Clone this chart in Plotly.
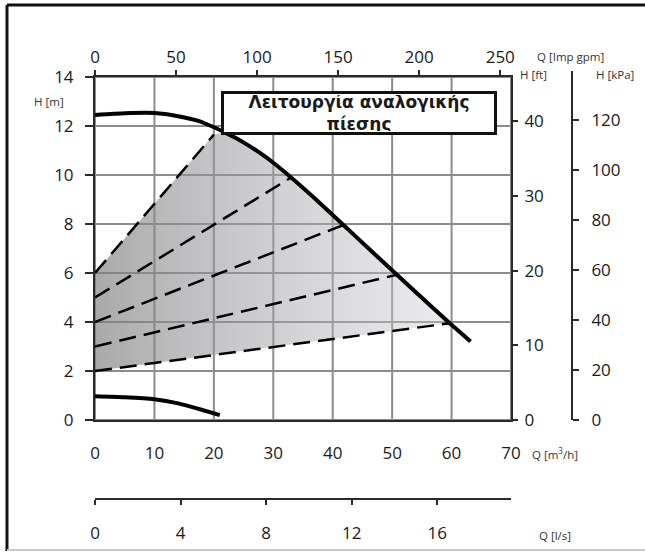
import plotly.graph_objects as go

# ---------------- data ----------------
# Maximum pump curve  (Q in m3/h, H in m)
max_q = [0, 5, 10, 14, 17.5, 20, 22, 24, 26, 28, 30, 33, 37, 41.8, 46, 50.8, 55, 59.7, 63.2]
max_h = [12.45, 12.52, 12.53, 12.4, 12.2, 11.95, 11.72, 11.47, 11.18, 10.86, 10.5, 9.9, 9.04,
         7.96, 7.01, 5.93, 4.99, 3.95, 3.2]

# Minimum pump curve
min_q = [0, 5, 10, 14, 17.5, 21]
min_h = [0.97, 0.93, 0.85, 0.68, 0.45, 0.2]

# Proportional-pressure control lines (start at Q=0)
prop_start_h = [6, 5, 4, 3, 2]
prop_end_q = [20, 33, 41.8, 50.8, 59.7]
prop_end_h = [11.65, 9.9, 7.96, 5.93, 3.95]

# Tick values of the axes
q_m3h_ticks = [0, 10, 20, 30, 40, 50, 60, 70]
q_gpm_ticks = [0, 50, 100, 150, 200, 250]
q_ls_ticks = [0, 4, 8, 12, 16]
h_m_ticks = [0, 2, 4, 6, 8, 10, 12, 14]
h_ft_ticks = [0, 10, 20, 30, 40]
h_kpa_ticks = [0, 20, 40, 60, 80, 100, 120]

box_text = "Λειτουργία αναλογικής<br>πίεσης"

# unit conversions
GPM_PER_M3H = 1 / 0.272765
LS_PER_M3H = 1 / 3.6
FT_PER_M = 1 / 0.3048
KPA_PER_M = 9.80665

Q_MAX = 70
H_MAX = 14

# ---------------- layout geometry (pixels) ----------------
W, H = 645, 555
ML, MR, MT, MB = 95, 20, 77, 30
PW = W - ML - MR
PH = H - MT - MB


def px(xp):
    return (xp - ML) / PW


def py(yp):
    return (H - MB - yp) / PH


x_dom = [0, px(511)]
y_dom = [py(420), 1]

fig = go.Figure()

GRID = "#8c8c8c"
AXC = "#2a2a2a"

# grid lines (drawn below the traces)
for q in q_m3h_ticks:
    fig.add_shape(type="line", xref="x", yref="y", x0=q, x1=q, y0=0, y1=H_MAX,
                  line=dict(color=GRID, width=2), layer="below")
for h in h_m_ticks:
    fig.add_shape(type="line", xref="x", yref="y", x0=0, x1=Q_MAX, y0=h, y1=h,
                  line=dict(color=GRID, width=2), layer="below")

# shaded operating area
poly_q = [0, 0, prop_end_q[0]]
poly_h = [prop_start_h[-1], prop_start_h[0], prop_end_h[0]]
for q, h in zip(max_q, max_h):
    if prop_end_q[0] < q < prop_end_q[-1]:
        poly_q.append(q)
        poly_h.append(h)
poly_q += [prop_end_q[-1], 0]
poly_h += [prop_end_h[-1], prop_start_h[-1]]

fig.add_trace(go.Scatter(
    x=poly_q, y=poly_h, mode="lines", line=dict(width=0),
    fill="toself",
    fillgradient=dict(type="horizontal",
                      colorscale=[[0, "rgba(125,125,125,0.66)"],
                                  [0.5, "rgba(160,160,165,0.5)"],
                                  [1, "rgba(205,205,208,0.4)"]]),
    hoverinfo="skip", showlegend=False))

# dashed proportional lines
for h0, q1, h1 in zip(prop_start_h, prop_end_q, prop_end_h):
    fig.add_trace(go.Scatter(
        x=[0, q1], y=[h0, h1], mode="lines",
        line=dict(color="black", width=2.5, dash="17px,8px"),
        hoverinfo="skip", showlegend=False))

# max & min curves
fig.add_trace(go.Scatter(x=max_q, y=max_h, mode="lines",
                         line=dict(color="black", width=4, shape="spline", smoothing=0.5),
                         showlegend=False))
fig.add_trace(go.Scatter(x=min_q, y=min_h, mode="lines",
                         line=dict(color="black", width=4, shape="spline", smoothing=0.6),
                         showlegend=False))

# dummy traces so that the secondary axes are drawn
fig.add_trace(go.Scatter(x=[None], y=[None], xaxis="x2", yaxis="y", showlegend=False, hoverinfo="skip"))
fig.add_trace(go.Scatter(x=[None], y=[None], xaxis="x", yaxis="y2", showlegend=False, hoverinfo="skip"))
fig.add_trace(go.Scatter(x=[None], y=[None], xaxis="x", yaxis="y3", showlegend=False, hoverinfo="skip"))
fig.add_trace(go.Scatter(x=[None], y=[None], xaxis="x3", yaxis="y", showlegend=False, hoverinfo="skip"))

FONT = "Open Sans"
tickfont = dict(family=FONT, size=17, color="#1a1a1a")

fig.update_layout(
    width=W, height=H,
    margin=dict(l=ML, r=MR, t=MT, b=MB, autoexpand=False),
    paper_bgcolor="white", plot_bgcolor="white",
    showlegend=False,
    xaxis=dict(domain=x_dom, range=[0, Q_MAX], tickvals=q_m3h_ticks,
               showgrid=False, zeroline=False,
               showline=True, linecolor=AXC, linewidth=2, mirror=True,
               ticks="", ticklabelstandoff=17, tickfont=tickfont, anchor="y"),
    yaxis=dict(domain=y_dom, range=[0, H_MAX], tickvals=h_m_ticks,
               showgrid=False, zeroline=False,
               showline=True, linecolor=AXC, linewidth=2, mirror=True,
               ticks="outside", ticklen=8, tickwidth=1.5, tickcolor=AXC,
               ticklabelstandoff=8, tickfont=tickfont, anchor="x"),
    xaxis2=dict(overlaying="x", side="top", anchor="y",
                range=[0, Q_MAX * GPM_PER_M3H], tickvals=q_gpm_ticks,
                showgrid=False, zeroline=False, showline=False,
                ticks="outside", ticklen=6, tickwidth=1.5, tickcolor=AXC,
                ticklabelstandoff=0, tickfont=tickfont),
    yaxis2=dict(overlaying="y", side="right", anchor="x",
                range=[0, H_MAX * FT_PER_M], tickvals=h_ft_ticks,
                showgrid=False, zeroline=False, showline=False,
                ticks="outside", ticklen=6, tickwidth=1.5, tickcolor=AXC,
                ticklabelstandoff=3, tickfont=tickfont),
    yaxis3=dict(overlaying="y", side="right", anchor="free", position=px(572),
                range=[0, H_MAX * KPA_PER_M], tickvals=h_kpa_ticks,
                showgrid=False, zeroline=False,
                showline=True, linecolor=AXC, linewidth=2,
                ticks="outside", ticklen=6, tickwidth=1.5, tickcolor=AXC,
                ticklabelstandoff=9, tickfont=tickfont),
    xaxis3=dict(overlaying="x", side="bottom", anchor="free", position=py(499),
                range=[0, Q_MAX * LS_PER_M3H], tickvals=q_ls_ticks,
                showgrid=False, zeroline=False,
                showline=True, linecolor=AXC, linewidth=2,
                ticks="outside", ticklen=5, tickwidth=1.5, tickcolor=AXC,
                ticklabelstandoff=14, tickfont=tickfont),
)

# kPa axis line continues slightly above the plot top
fig.add_shape(type="line", xref="paper", yref="paper", x0=px(572), x1=px(572),
              y0=1, y1=py(71), line=dict(color=AXC, width=2))

lab = dict(family=FONT, size=11.5, color="#333")
titles = [
    ("H [m]", 49, 101),
    ("Q [Imp gpm]", 570, 57),
    ("H [ft]", 533, 75),
    ("H [kPa]", 615, 75),
    ("Q [m<sup>3</sup>/h]", 555, 453),
    ("Q [l/s]", 555, 535),
]
for t, xx, yy in titles:
    fig.add_annotation(text=t, x=px(xx), y=py(yy), xref="paper", yref="paper",
                       showarrow=False, font=lab, xanchor="center", yanchor="middle")

# title box
fig.add_annotation(text="<b>" + box_text.replace("<br>", "</b><br><b>") + "</b>",
                   x=44.5, y=12.55, xref="x", yref="y", showarrow=False,
                   font=dict(family="DejaVu Sans", size=17, color="#1a1a1a"),
                   bgcolor="white", bordercolor="#111", borderwidth=3, borderpad=1,
                   width=268, height=36, align="center")

# outer frame
fig.add_shape(type="line", xref="paper", yref="paper",
              x0=px(7), x1=px(645), y0=py(5), y1=py(5), line=dict(color="#111", width=3))
fig.add_shape(type="line", xref="paper", yref="paper",
              x0=px(7), x1=px(7), y0=py(5), y1=py(551), line=dict(color="#111", width=3))
fig.add_shape(type="line", xref="paper", yref="paper",
              x0=px(7), x1=px(645), y0=py(550), y1=py(550), line=dict(color="#c8c8c8", width=2))

fig.write_html("out.html", config={"displayModeBar": False},
               post_script="document.body.style.margin='0px';document.body.style.overflow='hidden';")
